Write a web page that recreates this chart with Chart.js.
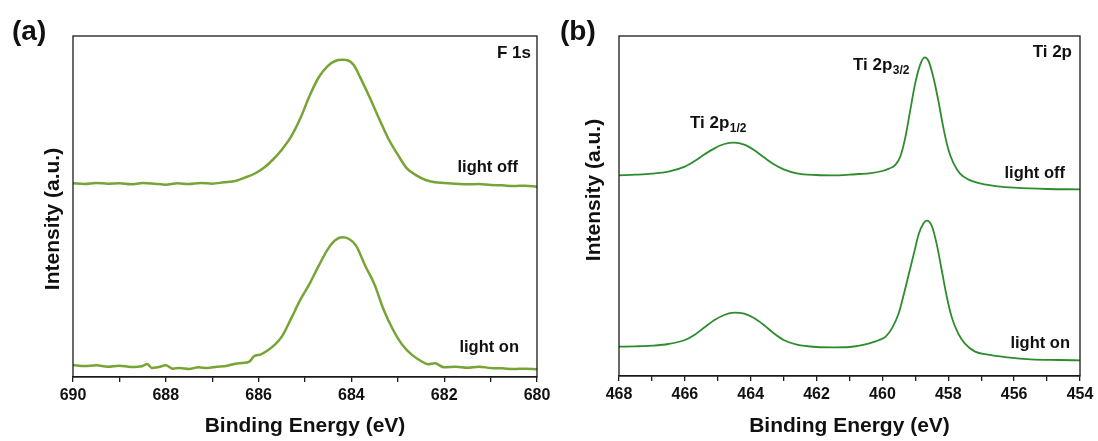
<!DOCTYPE html>
<html>
<head>
<meta charset="utf-8">
<script src="https://cdn.jsdelivr.net/npm/chart.js@4.4.1/dist/chart.umd.min.js"></script>
<style>
  body { margin: 0; background: #fff; }
  #wrap { position: relative; width: 1098px; height: 441px; background: #fff; }
  canvas { position: absolute; top: 0; }
</style>
</head>
<body>
<div id="wrap">
  <canvas id="chartA" width="555" height="441" style="left:0"></canvas>
  <canvas id="chartB" width="543" height="441" style="left:555px"></canvas>
</div>
<script>
/* F 1s spectra (panel a) */
const fOffEnergy = [690.0, 689.75, 689.5, 689.25, 689.0, 688.75, 688.5, 688.25, 688.0, 687.75, 687.5, 687.25, 687.0, 686.75, 686.5, 686.3, 686.1, 685.9, 685.7, 685.5, 685.3, 685.1, 684.9, 684.7, 684.5, 684.35, 684.2, 684.1, 683.95, 683.8, 683.6, 683.4, 683.2, 683.0, 682.8, 682.6, 682.4, 682.2, 682.0, 681.75, 681.5, 681.25, 681.0, 680.75, 680.5, 680.25, 680.0];
const fOffIntensity = [581, 579, 582, 580, 581, 578, 582, 580, 577, 581, 579, 582, 580, 584, 588, 598, 609, 626, 651, 682, 721, 776, 844, 900, 934, 948, 952, 951, 936, 896, 837, 774, 714, 667, 625, 605, 591, 584, 582, 580, 578, 579, 576, 575, 573, 574, 571];

const fOnEnergy = [690.0, 689.75, 689.5, 689.25, 689.0, 688.75, 688.5, 688.4, 688.3, 688.15, 688.0, 687.85, 687.7, 687.5, 687.3, 687.1, 686.9, 686.7, 686.5, 686.35, 686.2, 686.1, 685.95, 685.8, 685.65, 685.5, 685.3, 685.1, 684.9, 684.7, 684.5, 684.35, 684.2, 684.05, 683.9, 683.7, 683.5, 683.3, 683.1, 682.9, 682.7, 682.5, 682.35, 682.2, 682.0, 681.75, 681.5, 681.25, 681.0, 680.75, 680.5, 680.25, 680.0];
const fOnIntensity = [36, 33, 35, 31, 34, 30, 33, 39, 27, 30, 35, 25, 27, 24, 29, 27, 31, 33, 40, 42, 46, 62, 68, 80, 97, 121, 175, 232, 280, 335, 385, 410, 419, 414, 394, 333, 277, 200, 141, 96, 67, 48, 38, 41, 29, 31, 28, 31, 27, 26, 24, 25, 23];

/* Ti 2p spectra (panel b) */
const tiOffEnergy = [468.0, 467.5, 467.0, 466.5, 466.0, 465.7, 465.4, 465.1, 464.8, 464.5, 464.2, 463.9, 463.6, 463.3, 463.0, 462.6, 462.0, 461.5, 461.0, 460.7, 460.4, 460.0, 459.8, 459.6, 459.45, 459.3, 459.15, 459.0, 458.85, 458.72, 458.6, 458.45, 458.3, 458.15, 458.0, 457.85, 457.65, 457.4, 457.0, 456.5, 456.0, 455.0, 454.0];
const tiOffIntensity = [602, 604, 607, 613, 628, 645, 665, 683, 696, 700, 694, 678, 656, 635, 620, 608, 603, 602, 604, 606, 608, 615, 622, 634, 660, 718, 800, 880, 935, 956, 945, 895, 825, 745, 680, 640, 608, 590, 577, 569, 565, 561, 560];

const tiOnEnergy = [468.0, 467.5, 467.0, 466.5, 466.0, 465.7, 465.4, 465.1, 464.8, 464.5, 464.2, 463.9, 463.6, 463.3, 463.0, 462.6, 462.0, 461.5, 461.0, 460.7, 460.4, 460.1, 459.9, 459.7, 459.5, 459.35, 459.2, 459.05, 458.9, 458.75, 458.65, 458.5, 458.35, 458.2, 458.05, 457.9, 457.7, 457.5, 457.2, 456.8, 456.2, 455.5, 454.66, 454.0];
const tiOnIntensity = [88, 89, 91, 96, 108, 124, 146, 168, 183, 190, 187, 174, 153, 128, 108, 94, 87, 86, 87, 91, 98, 108, 118, 145, 190, 245, 305, 365, 425, 458, 466, 450, 395, 318, 240, 178, 128, 98, 74, 64, 56, 50, 48, 47];

// axis ranges
const fRange = [680, 690];
const tiRange = [454, 468];

const FONT = '"Liberation Sans", Arial, sans-serif';
Chart.defaults.font.family = FONT;
Chart.defaults.color = '#000';

function toPoints(xs, ys) {
  return xs.map((x, i) => ({ x: x, y: ys[i] }));
}

// box round the plot area
const framePlugin = {
  id: 'frame',
  afterDraw(chart) {
    const { ctx, chartArea: a } = chart;
    ctx.save();
    ctx.strokeStyle = '#1a1a1a';
    ctx.lineWidth = 1.3;
    ctx.strokeRect(a.left, a.top, a.right - a.left, a.bottom - a.top);
    ctx.restore();
  }
};

// free texts : panel letter, peak names, y title
function labelPlugin(items) {
  return {
    id: 'labels',
    afterDraw(chart) {
      const ctx = chart.ctx;
      ctx.save();
      ctx.fillStyle = '#111';
      ctx.textBaseline = 'middle';
      items.forEach(it => {
        ctx.font = 'bold ' + it.size + 'px ' + FONT;
        if (it.rotate) {
          ctx.save();
          ctx.translate(it.x, it.y);
          ctx.rotate(-Math.PI / 2);
          ctx.textAlign = 'center';
          ctx.fillText(it.text, 0, 0);
          ctx.restore();
          return;
        }
        ctx.textAlign = it.align || 'left';
        ctx.fillText(it.text, it.x, it.y);
        if (it.sub) {
          const w = ctx.measureText(it.text).width;
          ctx.font = 'bold ' + Math.round(it.size * 0.68) + 'px ' + FONT;
          ctx.textAlign = 'left';
          ctx.fillText(it.sub, it.x + w + 0.5, it.y + 6);
        }
      });
      ctx.restore();
    }
  };
}

function makeChart(id, opts) {
  return new Chart(document.getElementById(id), {
    type: 'line',
    data: {
      datasets: opts.series.map(s => ({
        data: s,
        borderColor: opts.color,
        borderWidth: opts.lineWidth,
        pointRadius: 0,
        fill: false,
        cubicInterpolationMode: 'monotone'
      }))
    },
    options: {
      responsive: false,
      animation: false,
      devicePixelRatio: 1,
      layout: { padding: { left: 0, top: 36, right: 18, bottom: 0 } },
      plugins: { legend: { display: false }, tooltip: { enabled: false } },
      scales: {
        x: {
          type: 'linear',
          reverse: true,
          min: opts.range[0],
          max: opts.range[1],
          afterFit: scale => { scale.height = opts.xHeight; },
          grid: { display: true, drawOnChartArea: false, drawTicks: true, tickLength: 5, color: '#1a1a1a', lineWidth: 1.3 },
          border: { display: true, color: '#1a1a1a', width: 1.3 },
          ticks: {
            stepSize: 1,
            autoSkip: false,
            maxRotation: 0,
            padding: 4,
            color: '#111',
            font: { size: 16, weight: 'bold' },
            callback: v => (v % 2 === 0 ? String(v) : '')
          },
          title: {
            display: true,
            text: 'Binding Energy (eV)',
            color: '#111',
            font: { size: 21, weight: 'bold' },
            padding: { top: 4, bottom: 2 }
          }
        },
        y: {
          min: 0,
          max: opts.yMax,
          afterFit: scale => { scale.width = opts.yWidth; },
          grid: { display: false },
          border: { display: false },
          ticks: { display: false }
        }
      }
    },
    plugins: [framePlugin, labelPlugin(opts.labels)]
  });
}

makeChart('chartA', {
  series: [toPoints(fOffEnergy, fOffIntensity), toPoints(fOnEnergy, fOnIntensity)],
  color: '#78a436',
  lineWidth: 2.5,
  range: fRange,
  yMax: 1023,
  yWidth: 73,
  xHeight: 64,
  labels: [
    { text: '(a)', x: 12, y: 32, size: 28 },
    { text: 'F 1s', x: 531, y: 53, size: 17, align: 'right' },
    { text: 'light off', x: 518, y: 167, size: 16.5, align: 'right' },
    { text: 'light on', x: 519, y: 347, size: 16.5, align: 'right' },
    { text: 'Intensity (a.u.)', x: 53, y: 219, size: 21, rotate: true }
  ]
});

makeChart('chartB', {
  series: [toPoints(tiOffEnergy, tiOffIntensity), toPoints(tiOnEnergy, tiOnIntensity)],
  color: '#2d8c2d',
  lineWidth: 1.8,
  range: tiRange,
  yMax: 1020,
  yWidth: 64,
  xHeight: 65,
  labels: [
    { text: '(b)', x: 5, y: 32, size: 28 },
    { text: 'Ti 2p', x: 517, y: 52, size: 17, align: 'right' },
    { text: 'Ti 2p', x: 298, y: 65, size: 17, sub: '3/2' },
    { text: 'Ti 2p', x: 135, y: 123, size: 17, sub: '1/2' },
    { text: 'light off', x: 510, y: 173, size: 16.5, align: 'right' },
    { text: 'light on', x: 515, y: 343, size: 16.5, align: 'right' },
    { text: 'Intensity (a.u.)', x: 39, y: 190, size: 21, rotate: true }
  ]
});
</script>
</body>
</html>
